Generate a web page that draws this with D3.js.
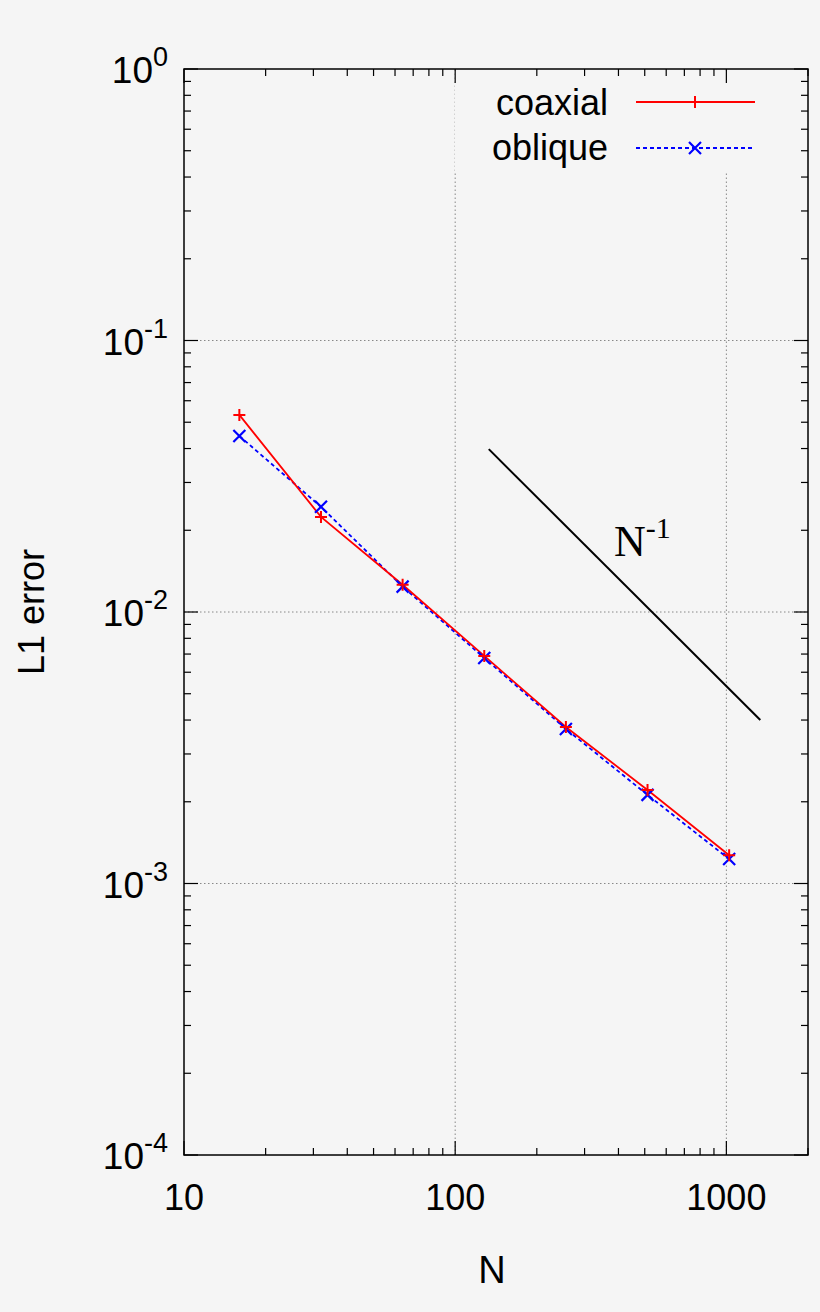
<!DOCTYPE html>
<html lang="en">
<head>
  <meta charset="utf-8">
  <script src="https://d3js.org/d3.v7.min.js"></script>
  <style>
    body { margin: 0; background: #f5f5f5; }
    text { font-family: "Liberation Sans", Arial, sans-serif; fill: #000; }
  </style>
</head>
<body>
<div id="chart"></div>
<script>
// sizes N and L1 error for both runs
var sizes = [16, 32, 64, 128, 256, 512, 1024];
var coaxial = [0.0532, 0.0224, 0.0126, 0.00689, 0.00377, 0.00221, 0.00127];
var oblique = [0.0445, 0.0244, 0.0124, 0.00677, 0.00371, 0.00212, 0.00123];
var slopeN = [133, 1334];
var slopeErr = [0.0398, 0.0040];
var xTicks = [10, 100, 1000];
var yExps = [0, -1, -2, -3, -4];

var W = 820, H = 1312;
var m = {left: 184, right: 12, top: 69, bottom: 157};

var svg = d3.select("#chart").append("svg").attr("width", W).attr("height", H);

var x = d3.scaleLog().domain([10, 2000]).range([m.left, W - m.right]);
var y = d3.scaleLog().domain([1e-4, 1]).range([H - m.bottom, m.top]);
var x0 = x.range()[0], x1 = x.range()[1], y0 = y.range()[0], y1 = y.range()[1];

// grid
var grid = svg.append("g").attr("stroke", "#888").attr("stroke-width", 1).attr("stroke-dasharray", "1.5,2.5");
[100, 1000].forEach(function (v) {
  grid.append("line").attr("x1", x(v)).attr("x2", x(v)).attr("y1", y0).attr("y2", y1);
});
yExps.slice(1, 4).forEach(function (e) {
  grid.append("line").attr("x1", x0).attr("x2", x1).attr("y1", y(Math.pow(10, e))).attr("y2", y(Math.pow(10, e)));
});

// legend backing hides grid
svg.append("rect").attr("x", 455).attr("y", 72).attr("width", 350).attr("height", 100).attr("fill", "#f5f5f5");

// ticks (inward, mirrored)
var tk = svg.append("g").attr("stroke", "#000").attr("stroke-width", 1.2);
for (var d = 10; d < 10000; d *= 10) {
  for (var k = 1; k < 10; k++) {
    var v = d * k;
    if (v < 10 || v > 2000) continue;
    var L = k === 1 ? 14 : 7;
    tk.append("line").attr("x1", x(v)).attr("x2", x(v)).attr("y1", y0).attr("y2", y0 - L);
    tk.append("line").attr("x1", x(v)).attr("x2", x(v)).attr("y1", y1).attr("y2", y1 + L);
  }
}
for (var e = -4; e <= 0; e++) {
  for (var k2 = 1; k2 < 10; k2++) {
    var vv = k2 * Math.pow(10, e);
    if (vv > 1) continue;
    var L2 = k2 === 1 ? 14 : 7;
    tk.append("line").attr("x1", x0).attr("x2", x0 + L2).attr("y1", y(vv)).attr("y2", y(vv));
    tk.append("line").attr("x1", x1).attr("x2", x1 - L2).attr("y1", y(vv)).attr("y2", y(vv));
  }
}
svg.append("rect").attr("x", x0).attr("y", y1).attr("width", x1 - x0).attr("height", y0 - y1)
  .attr("fill", "none").attr("stroke", "#000").attr("stroke-width", 1.5);

// tick labels
xTicks.forEach(function (v) {
  svg.append("text").attr("x", x(v)).attr("y", y0 + 55).attr("text-anchor", "middle")
    .attr("font-size", 36).text(v);
});
yExps.forEach(function (e) {
  var t = svg.append("text").attr("x", x0 - 16).attr("y", y(Math.pow(10, e)) + 14)
    .attr("text-anchor", "end").attr("font-size", 37);
  t.append("tspan").text("10");
  t.append("tspan").attr("dy", -17).attr("font-size", 27).text(e);
});

svg.append("text").attr("x", (x0 + x1) / 2 - 4).attr("y", 1283).attr("text-anchor", "middle")
  .attr("font-size", 38).text("N");
svg.append("text").attr("transform", "translate(44," + ((y0 + y1) / 2) + ") rotate(-90)")
  .attr("text-anchor", "middle").attr("font-size", 36).text("L1 error");

// reference slope line
svg.append("line").attr("x1", x(slopeN[0])).attr("y1", y(slopeErr[0]))
  .attr("x2", x(slopeN[1])).attr("y2", y(slopeErr[1])).attr("stroke", "#000").attr("stroke-width", 2);
var nl = svg.append("text").attr("x", 614).attr("y", 556).attr("font-size", 44)
  .style("font-family", "'Liberation Serif', serif");
nl.append("tspan").text("N");
nl.append("tspan").attr("dy", -18).attr("font-size", 30).text("-1");

function plus(g, cx, cy) {
  g.append("path").attr("d", "M" + (cx - 6) + "," + cy + "h12M" + cx + "," + (cy - 6) + "v12")
    .attr("stroke", "#f00").attr("stroke-width", 2).attr("fill", "none");
}
function cross(g, cx, cy) {
  g.append("path").attr("d", "M" + (cx - 6) + "," + (cy - 6) + "l12,12M" + (cx - 6) + "," + (cy + 6) + "l12,-12")
    .attr("stroke", "#00f").attr("stroke-width", 2.2).attr("fill", "none");
}

var line = d3.line().x(function (d) { return x(d[0]); }).y(function (d) { return y(d[1]); });
svg.append("path").datum(d3.zip(sizes, oblique)).attr("d", line)
  .attr("fill", "none").attr("stroke", "#00f").attr("stroke-width", 1.8).attr("stroke-dasharray", "4,3");
svg.append("path").datum(d3.zip(sizes, coaxial)).attr("d", line)
  .attr("fill", "none").attr("stroke", "#f00").attr("stroke-width", 1.8);
sizes.forEach(function (n, i) {
  cross(svg, x(n), y(oblique[i]));
  plus(svg, x(n), y(coaxial[i]));
});

// legend
svg.append("text").attr("x", 608).attr("y", 115).attr("text-anchor", "end").attr("font-size", 36).text("coaxial");
svg.append("line").attr("x1", 636).attr("x2", 755).attr("y1", 102).attr("y2", 102).attr("stroke", "#f00").attr("stroke-width", 1.8);
plus(svg, 695, 102);
svg.append("text").attr("x", 608).attr("y", 160).attr("text-anchor", "end").attr("font-size", 36).text("oblique");
svg.append("line").attr("x1", 636).attr("x2", 755).attr("y1", 148).attr("y2", 148).attr("stroke", "#00f").attr("stroke-width", 1.8).attr("stroke-dasharray", "4,3");
cross(svg, 695, 148);
</script>
</body>
</html>
